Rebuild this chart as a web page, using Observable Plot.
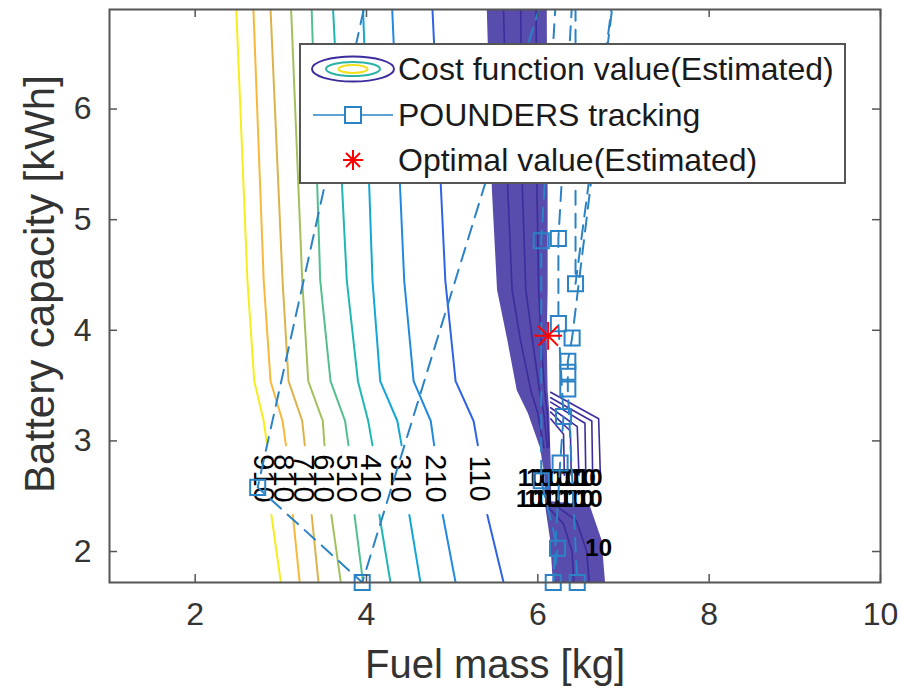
<!DOCTYPE html>
<html><head><meta charset="utf-8">
<script src="https://cdn.jsdelivr.net/npm/d3@7"></script>
<script src="https://cdn.jsdelivr.net/npm/@observablehq/plot@0.6"></script>
<style>
body{margin:0;background:#fff;font-family:"Liberation Sans",Arial,sans-serif;}
#wrap{position:relative;width:900px;height:691px;}
#legend{position:absolute;left:299px;top:43px;width:547px;height:141px;box-sizing:border-box;border:2px solid #555;background:#fff;}
#legend svg{position:absolute;left:0;top:0;}
#legend .t{position:absolute;left:97px;height:40px;line-height:40px;font-size:32px;color:#1a1a1a;white-space:nowrap;}
</style></head><body><div id="wrap"></div>
<script>
// axes
const xDomain = [1, 10];
const yDomain = [1.72, 6.9];
const xTicks = [2, 4, 6, 8, 10];
const yTicks = [2, 3, 4, 5, 6];

// contour levels and colours (parula-like)
const levels = [10, 110, 210, 310, 410, 510, 610, 710, 810, 910];
const levelColors = ["#3b2d9e","#2f63e6","#2289e0","#14a6d6","#20b6b4","#54bf8e","#a2c15e","#dcb34a","#f7b83c","#f5ee1c"];

// contour lines, [x, y]; null = gap under a label
const c910 = [[2.48,6.9],[2.61,4.45],[2.69,3.54],[2.80,3.18],[2.84,2.96],null,[2.89,2.33],[3.00,1.72]];
const c810 = [[2.68,6.9],[2.80,4.45],[2.88,3.54],[3.02,3.18],[3.06,2.96],null,[3.14,2.33],[3.22,1.72]];
const c710 = [[2.88,6.9],[3.02,4.45],[3.09,3.54],[3.25,3.18],[3.28,2.96],null,[3.36,2.33],[3.44,1.72]];
const c610 = [[3.12,6.9],[3.25,4.45],[3.32,3.54],[3.49,3.18],[3.51,2.96],null,[3.59,2.33],[3.70,1.72]];
const c510 = [[3.36,6.9],[3.46,4.45],[3.58,3.54],[3.75,3.18],[3.79,2.96],null,[3.86,2.33],[3.96,1.72]];
const c410 = [[3.61,6.9],[3.77,4.45],[3.90,3.54],[4.02,3.18],[4.07,2.96],null,[4.15,2.33],[4.28,1.72]];
const c310 = [[3.96,6.9],[4.07,4.45],[4.16,3.54],[4.36,3.18],[4.41,2.96],null,[4.50,2.33],[4.63,1.72]];
const c210 = [[4.30,6.9],[4.44,4.45],[4.55,3.54],[4.75,3.18],[4.79,2.96],null,[4.89,2.33],[5.04,1.72]];
const c110 = [[4.77,6.9],[4.92,4.45],[5.04,3.54],[5.25,3.18],[5.30,2.96],null,[5.41,2.33],[5.60,1.72]];

// contour label positions (level, x, y)
const labelLevels = [910, 810, 710, 610, 510, 410, 310, 210, 110];
const labelX = [2.80, 3.03, 3.26, 3.50, 3.76, 4.04, 4.40, 4.80, 5.32];
const labelY = 2.66;

// dense low-value band: [y, left x, right x]
const bandLevel = 10;
const bandEdge = [[6.9,5.41,6.11],[5.26,5.47,6.12],[4.36,5.53,6.12],[3.905,5.65,6.11],[3.454,5.76,6.12],[3.246,5.89,6.14],[2.939,6.03,6.15],[2.70,6.08,6.16],[2.45,6.09,6.16],[2.415,6.09,6.61],[2.10,6.15,6.75],[1.72,6.18,6.79]];
const bandIn1 = [[5.60,6.9],[5.65,5.26],[5.70,4.36],[5.80,3.9],[5.92,3.45],[6.00,3.25],[6.07,2.94]];
const bandIn2 = [[5.80,6.9],[5.82,5.26],[5.86,4.36],[5.94,3.9],[6.02,3.45],[6.07,3.25],[6.11,2.94]];
const bandIn3 = [[5.98,6.9],[5.99,5.26],[6.01,4.36],[6.04,3.9],[6.08,3.45],[6.11,3.25],[6.13,2.94]];
const bandLow1 = [[6.12,2.40],[6.30,2.25],[6.40,2.00],[6.42,1.72]];
const bandLow2 = [[6.20,2.42],[6.45,2.28],[6.57,2.00],[6.60,1.72]];
const fan1 = [[6.15,3.44],[6.71,3.20],[6.73,2.69]];
const fan2 = [[6.15,3.39],[6.63,3.18],[6.64,2.69]];
const fan3 = [[6.15,3.35],[6.55,3.16],[6.56,2.69]];
const fan4 = [[6.15,3.30],[6.46,3.13],[6.48,2.69]];
const fan5 = [[6.15,3.26],[6.38,3.09],[6.39,2.69]];
const fan6 = [[6.15,3.20],[6.30,3.06],[6.31,2.69]];
const bandLabelX = [5.92, 6.02, 6.12, 6.22, 6.32, 6.42, 6.52, 6.60, 5.90, 6.00, 6.10, 6.20, 6.30, 6.40, 6.50, 6.60, 6.71];
const bandLabelY = [2.66, 2.66, 2.66, 2.66, 2.66, 2.66, 2.66, 2.66, 2.47, 2.47, 2.47, 2.47, 2.47, 2.47, 2.47, 2.47, 2.03];

// POUNDERS tracking path (points above 6.9 lie outside the view)
const trackX = [4.14, 2.73, 3.95, 6.25, 6.04, 6.04, 6.23, 6.18, 6.26, 6.30, 6.24, 6.24, 6.44, 6.44, 6.96, 6.40, 6.35, 6.35, 6.35, 6.46];
const trackY = [7.5, 2.58, 1.72, 7.5, 4.81, 2.64, 2.03, 1.72, 2.80, 3.22, 4.06, 4.83, 7.5, 4.42, 7.5, 3.93, 3.72, 3.62, 3.47, 1.72];

// estimated optimum
const optX = 6.12, optY = 3.95;

// ---- build tables
const contourSets = [[910,c910],[810,c810],[710,c710],[610,c610],[510,c510],[410,c410],[310,c310],[210,c210],[110,c110]];
const contourRows = contourSets.flatMap(([lev, pts], i) => pts.map(p => ({id: "c" + i, level: lev, x: p ? p[0] : NaN, y: p ? p[1] : NaN})));
const bandSets = [bandIn1, bandIn2, bandIn3, bandLow1, bandLow2, fan1, fan2, fan3, fan4, fan5, fan6];
const bandRows = bandSets.flatMap((pts, i) => pts.map(p => ({id: "b" + i, level: bandLevel, x: p[0], y: p[1]})));
const bandArea = bandEdge.map(([y, x1, x2]) => ({y, x1, x2, level: bandLevel}));
const labelRows = labelLevels.map((lev, i) => ({level: lev, x: labelX[i], y: labelY}));
const bandLabelRows = bandLabelX.map((x, i) => ({x, y: bandLabelY[i], t: String(bandLevel)}));
const trackRows = trackX.map((x, i) => ({x, y: trackY[i]}));
const trackShown = trackRows.filter(d => d.y <= yDomain[1]);
const trackColor = "#2b83c6";

const chart = Plot.plot({
  width: 900, height: 691,
  marginLeft: 109, marginRight: 20, marginTop: 9, marginBottom: 109,
  x: {domain: xDomain},
  y: {domain: yDomain},
  color: {type: "linear", domain: levels, range: levelColors, interpolate: "rgb"},
  style: {fontFamily: "'Liberation Sans', Arial, sans-serif", color: "#262626", background: "white"},
  marks: [
    Plot.areaX(bandArea, {y: "y", x1: "x1", x2: "x2", fill: "level", fillOpacity: 0.85, curve: "linear", clip: true}),
    Plot.line(bandRows, {x: "x", y: "y", z: "id", stroke: "level", strokeWidth: 1.6, clip: true}),
    Plot.line(contourRows, {x: "x", y: "y", z: "id", stroke: "level", strokeWidth: 2, clip: true}),
    Plot.text(labelRows, {x: "x", y: "y", text: d => String(d.level), rotate: 90, fontSize: 29, fill: "black"}),
    Plot.text(bandLabelRows, {x: "x", y: "y", text: "t", fontSize: 24, fill: "black", fontWeight: "bold"}),
    Plot.line(trackRows, {x: "x", y: "y", stroke: trackColor, strokeWidth: 2, strokeDasharray: "14,9", clip: true}),
    Plot.dot(trackShown, {x: "x", y: "y", symbol: "square", r: 8.5, stroke: trackColor, strokeWidth: 2, fill: "none"}),
    Plot.dot([{x: optX, y: optY}], {x: "x", y: "y", symbol: "plus", r: 9, stroke: "red", strokeWidth: 2}),
    Plot.dot([{x: optX, y: optY}], {x: "x", y: "y", symbol: "times", r: 9, stroke: "red", strokeWidth: 2}),
    Plot.tickX(xTicks, {x: d => d, insetTop: 565, stroke: "#555", strokeWidth: 1.5}),
    Plot.tickX(xTicks, {x: d => d, insetBottom: 565, stroke: "#555", strokeWidth: 1.5}),
    Plot.tickY(yTicks, {y: d => d, insetRight: 763, stroke: "#555", strokeWidth: 1.5}),
    Plot.tickY(yTicks, {y: d => d, insetLeft: 763, stroke: "#555", strokeWidth: 1.5}),
    Plot.axisX({ticks: xTicks, tickFormat: d => String(d), tickSize: 0, tickPadding: 20, fontSize: 32, label: null, fill: "#333"}),
    Plot.axisY({ticks: yTicks, tickFormat: d => String(d), tickSize: 0, tickPadding: 18, fontSize: 32, label: null, fill: "#333"}),
    Plot.text(["Fuel mass [kg]"], {frameAnchor: "bottom", dy: 83, lineAnchor: "middle", textAnchor: "middle", fontSize: 40, fill: "#333"}),
    Plot.text(["Battery capacity [kWh]"], {frameAnchor: "left", dx: -69, dy: -12, rotate: -90, textAnchor: "middle", lineAnchor: "middle", fontSize: 42, fill: "#333"}),
    Plot.frame({stroke: "#555", strokeWidth: 2})
  ]
});
const wrap = document.getElementById("wrap");
wrap.appendChild(chart);

// legend overlay
const legend = document.createElement("div");
legend.id = "legend";
legend.innerHTML = `
<svg width="543" height="137">
  <ellipse cx="52" cy="24" rx="41" ry="12.5" fill="none" stroke="${levelColors[0]}" stroke-width="2"/>
  <ellipse cx="52" cy="24" rx="27" ry="7" fill="none" stroke="#2ab3a6" stroke-width="2"/>
  <ellipse cx="52" cy="24" rx="14.5" ry="4" fill="none" stroke="#f0e11c" stroke-width="2"/>
  <line x1="12" x2="92" y1="70" y2="70" stroke="${trackColor}" stroke-width="1.5"/>
  <rect x="44" y="62" width="16" height="16" fill="white" stroke="${trackColor}" stroke-width="2"/>
  <g stroke="red" stroke-width="2">
    <line x1="42" x2="62" y1="115" y2="115"/><line x1="52" x2="52" y1="105" y2="125"/>
    <line x1="45" x2="59" y1="108" y2="122"/><line x1="45" x2="59" y1="122" y2="108"/>
  </g>
</svg>
<div class="t" style="top:4px">Cost function value(Estimated)</div>
<div class="t" style="top:50px">POUNDERS tracking</div>
<div class="t" style="top:95px">Optimal value(Estimated)</div>`;
wrap.appendChild(legend);
</script>
</body></html>
